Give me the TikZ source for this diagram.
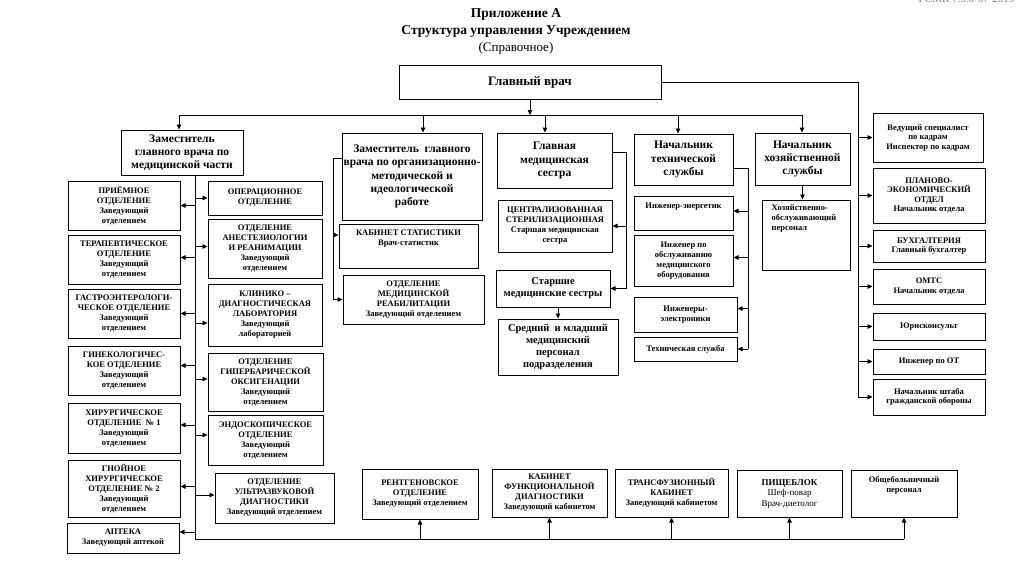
\documentclass[tikz,border=0pt]{standalone}
\usepackage{fontspec}
\setmainfont{Liberation Serif}
\usetikzlibrary{arrows.meta,calc}
\newcommand{\obox}[7][]{\node[box,minimum width={(#4-#2)*1pt},minimum height={(#5-#3)*1pt},#1] (#6) at ({(#2+#4)/2},{(#3+#5)/2}) {#7};}
\begin{document}
\begin{tikzpicture}[x=1pt,y=-1pt,
  box/.style={draw,line width=1pt,align=center,inner sep=0pt,font=\bfseries\fontsize{8.5}{10}\selectfont},
  big/.style={font=\bfseries\fontsize{11.5}{13.2}\selectfont},
  rbox/.style={font=\bfseries\fontsize{8.5}{9.5}\selectfont},
  txt/.style={align=center,inner sep=0pt,font=\bfseries\fontsize{8.5}{10}\selectfont},
  arr/.style={line width=0.8pt,-{Triangle[length=5pt,width=4.5pt]}},
  ln/.style={line width=0.8pt}]
\fill[white] (0,0) rectangle (1024,568);
\useasboundingbox (0,0) rectangle (1024,568);

% titles
\node[anchor=east,text=gray,font=\fontsize{11}{13}\selectfont] (code) at (1018,-1) {РСМК 7.5.0-07-2019};
\node[font=\bfseries\fontsize{13.5}{16}\selectfont] (t1) at (516,14) {Приложение А};
\node[font=\bfseries\fontsize{13.5}{16}\selectfont] (t2) at (516,31) {Структура управления Учреждением};
\node[font=\fontsize{13}{16}\selectfont] (t3) at (516,48) {(Справочное)};

% head
\obox[font=\bfseries\fontsize{13}{15}\selectfont]{399}{65}{661}{99}{gv}{Главный врач}

% level 1
\obox[big]{121}{130}{243}{175}{zmed}{Заместитель\\главного врача по\\медицинской части}
\obox[big]{342}{133}{482}{220}{zorg}{Заместитель \ главного\\врача по организационно-\\методической и\\идеологической\\работе}
\obox[big]{497}{133}{612}{188}{glm}{Главная\\медицинская\\сестра}
\obox[big]{634}{134}{733}{185}{tech}{Начальник\\технической\\службы}
\obox[big]{755}{133}{850}{185}{hoz}{Начальник\\хозяйственной\\службы}

% left column
\obox{68}{181}{180}{230}{priem}{ПРИЁМНОЕ\\ОТДЕЛЕНИЕ\\Заведующий\\отделением}
\obox{68}{235}{180}{284}{ter}{ТЕРАПЕВТИЧЕСКОЕ\\ОТДЕЛЕНИЕ\\Заведующий\\отделением}
\obox{68}{289}{180}{338}{gastro}{ГАСТРОЭНТЕРОЛОГИ-\\ЧЕСКОЕ ОТДЕЛЕНИЕ\\Заведующий\\отделением}
\obox{68}{346}{180}{395}{gin}{ГИНЕКОЛОГИЧЕС-\\КОЕ ОТДЕЛЕНИЕ\\Заведующий\\отделением}
\obox{68}{403}{180}{453}{hir1}{ХИРУРГИЧЕСКОЕ\\ОТДЕЛЕНИЕ~~№ 1\\Заведующий\\отделением}
\obox{68}{460}{180}{517}{hir2}{ГНОЙНОЕ\\ХИРУРГИЧЕСКОЕ\\ОТДЕЛЕНИЕ № 2\\Заведующий\\отделением}
\obox{67}{523}{179}{553}{apt}{АПТЕКА\\Заведующий аптекой}

% second column
\obox{208}{181}{322}{215}{oper}{ОПЕРАЦИОННОЕ\\ОТДЕЛЕНИЕ}
\obox{208}{219}{322}{278}{anest}{ОТДЕЛЕНИЕ\\АНЕСТЕЗИОЛОГИИ\\И РЕАНИМАЦИИ\\Заведующий\\отделением}
\obox{208}{284}{322}{346}{klin}{КЛИНИКО –\\ДИАГНОСТИЧЕСКАЯ\\ЛАБОРАТОРИЯ\\Заведующий\\лабораторией}
\obox{208}{353}{323}{411}{giper}{ОТДЕЛЕНИЕ\\ГИПЕРБАРИЧЕСКОЙ\\ОКСИГЕНАЦИИ\\Заведующий\\отделением}
\obox{208}{415}{323}{465}{endo}{ЭНДОСКОПИЧЕСКОЕ\\ОТДЕЛЕНИЕ\\Заведующий\\отделением}
\obox{215}{473}{334}{523}{uzd}{ОТДЕЛЕНИЕ\\УЛЬТРАЗВУКОВОЙ\\ДИАГНОСТИКИ\\Заведующий отделением}

% org-method column
\obox{339}{224}{478}{268}{stat}{}
\node[txt,anchor=north] (statT) at ([yshift=-6pt]stat.north) {КАБИНЕТ СТАТИСТИКИ\\Врач-статистик};
\obox{343}{275}{484}{324}{reab}{ОТДЕЛЕНИЕ\\МЕДИЦИНСКОЙ\\РЕАБИЛИТАЦИИ\\Заведующий отделением}

% nurse column
\obox{498}{200}{612}{252}{centr}{ЦЕНТРАЛИЗОВАННАЯ\\СТЕРИЛИЗАЦИОННАЯ\\Старшая медицинская\\сестра}
\obox[font=\bfseries\fontsize{10.5}{12}\selectfont]{496}{270}{610}{307}{star}{Старшие\\медицинские сестры}
\obox[font=\bfseries\fontsize{10.5}{12.3}\selectfont]{498}{319}{618}{375}{sred}{Средний \ и младший\\медицинский\\персонал\\подразделения}

% tech column
\obox{634}{196}{733}{230}{eng}{}
\node[txt,anchor=north] (engT) at ([yshift=-7pt]eng.north) {Инженер-энергетик};
\obox{634}{235}{733}{286}{engm}{Инженер по\\обслуживанию\\медицинского\\оборудования}
\obox{634}{297}{737}{332}{engel}{Инженеры-\\электроники}
\obox{634}{337}{737}{361}{techs}{Техническая служба}

% hoz
\obox{762}{200}{850}{270}{hozp}{}
\node[txt,align=left,anchor=north west] (hozT) at ([xshift=10pt,yshift=-5pt]hozp.north west) {Хозяйственно-\\обслуживающий\\персонал};

% right column
\obox[rbox]{873}{113}{983}{162}{kadr}{Ведущий специалист\\по кадрам\\Инспектор по кадрам}
\obox[rbox]{873}{168}{985}{223}{plan}{ПЛАНОВО-\\ЭКОНОМИЧЕСКИЙ\\ОТДЕЛ\\Начальник отдела}
\obox[rbox]{873}{230}{985}{262}{buh}{БУХГАЛТЕРИЯ\\Главный бухгалтер}
\obox[rbox]{873}{269}{985}{304}{omts}{ОМТС\\Начальник отдела}
\obox[rbox]{873}{313}{985}{340}{jur}{Юрисконсульт}
\obox[rbox]{873}{349}{985}{374}{ot}{Инженер по ОТ}
\obox[rbox]{873}{379}{985}{415}{shtab}{Начальник штаба\\гражданской обороны}

% bottom row
\obox{362}{469}{478}{519}{rentg}{РЕНТГЕНОВСКОЕ\\ОТДЕЛЕНИЕ\\Заведующий отделением}
\obox{492}{469}{607}{517}{func}{КАБИНЕТ\\ФУНКЦИОНАЛЬНОЙ\\ДИАГНОСТИКИ\\Заведующий кабинетом}
\obox{615}{469}{728}{517}{transf}{ТРАНСФУЗИОННЫЙ\\КАБИНЕТ\\Заведующий кабинетом}
\obox[font=\bfseries\fontsize{9}{10.5}\selectfont]{737}{470}{842}{517}{pish}{ПИЩЕБЛОК\\{\mdseries Шеф-повар}\\{\mdseries Врач-диетолог}}
\obox{851}{470}{957}{517}{obsh}{}
\node[txt,anchor=north] (obshT) at ([yshift=-7pt]obsh.north) {Общебольничный\\персонал};

% ---- connectors ----
\coordinate (T) at (0,115);
\coordinate (tl) at (179,115);
\coordinate (tr) at (802,115);
\coordinate (xz) at (423,115);
\coordinate (xg) at (545,115);
\coordinate (xt) at (678,115);
\draw[arr] (gv.south) -- (gv.south |- T);
\draw[ln] (tl) -- (tr);
\draw[arr] (tl) -- (tl |- zmed.north);
\draw[arr] (xz) -- (xz |- zorg.north);
\draw[arr] (xg) -- (xg |- glm.north);
\draw[arr] (xt) -- (xt |- tech.north);
\draw[arr] (tr) -- (tr |- hoz.north);

% left bus
\coordinate (bl) at (195,0);
\coordinate (bb) at (0,539);
\draw[ln] (zmed.south -| bl) -- (bl |- bb) -- (obsh.south |- bb);
\foreach \n/\d in {priem/0,ter/-2,gastro/0,gin/-5,hir1/-3,hir2/-2,apt/-6}{
  \coordinate (tmp) at ($(\n.east)+(0,\d)$);
  \draw[arr] (tmp -| bl) -- (tmp);
}
\foreach \n/\d in {oper/0,anest/-2,klin/8,giper/-3,endo/-5,uzd/-3}{
  \coordinate (tmp) at ($(\n.west)+(0,\d)$);
  \draw[arr] (tmp -| bl) -- (tmp);
}
\foreach \n in {rentg,func,transf,pish,obsh}{
  \draw[arr] (\n.south |- bb) -- (\n.south);
}

% org-method
\coordinate (ol) at (333,158);
\draw[ln] (zorg.west |- ol) -- (ol) -- (ol |- reab.west);
\coordinate (tmp) at ($(stat.west)+(0,-11)$);
\draw[arr] (tmp -| ol) -- (tmp);
\draw[arr] (reab.west -| ol) -- (reab.west);

% nurse
\coordinate (gr) at (626,152);
\draw[ln] (glm.east |- gr) -- (gr) -- (gr |- star.east);
\draw[arr] (centr.east -| gr) -- (centr.east);
\draw[arr] (star.east -| gr) -- (star.east);
\draw[arr] (sred.north |- star.south) -- (sred.north);

% tech
\coordinate (tq) at (748,168);
\draw[ln] (tech.east |- tq) -- (tq) -- (tq |- techs.east);
\foreach \n/\d in {eng/-2,engm/-3,engel/-6,techs/0}{
  \coordinate (tmp) at ($(\n.east)+(0,\d)$);
  \draw[arr] (tmp -| tq) -- (tmp);
}

% hoz
\draw[arr] (hoz.south) -- (hoz.south |- hozp.north);

% right column
\coordinate (R) at (858,0);
\draw[ln] (gv.east) -- (gv.east -| R) -- (R |- shtab.west);
\foreach \n in {kadr,plan,buh,omts,jur,ot,shtab}{
  \draw[arr] (\n.west -| R) -- (\n.west);
}
\end{tikzpicture}
\end{document}
